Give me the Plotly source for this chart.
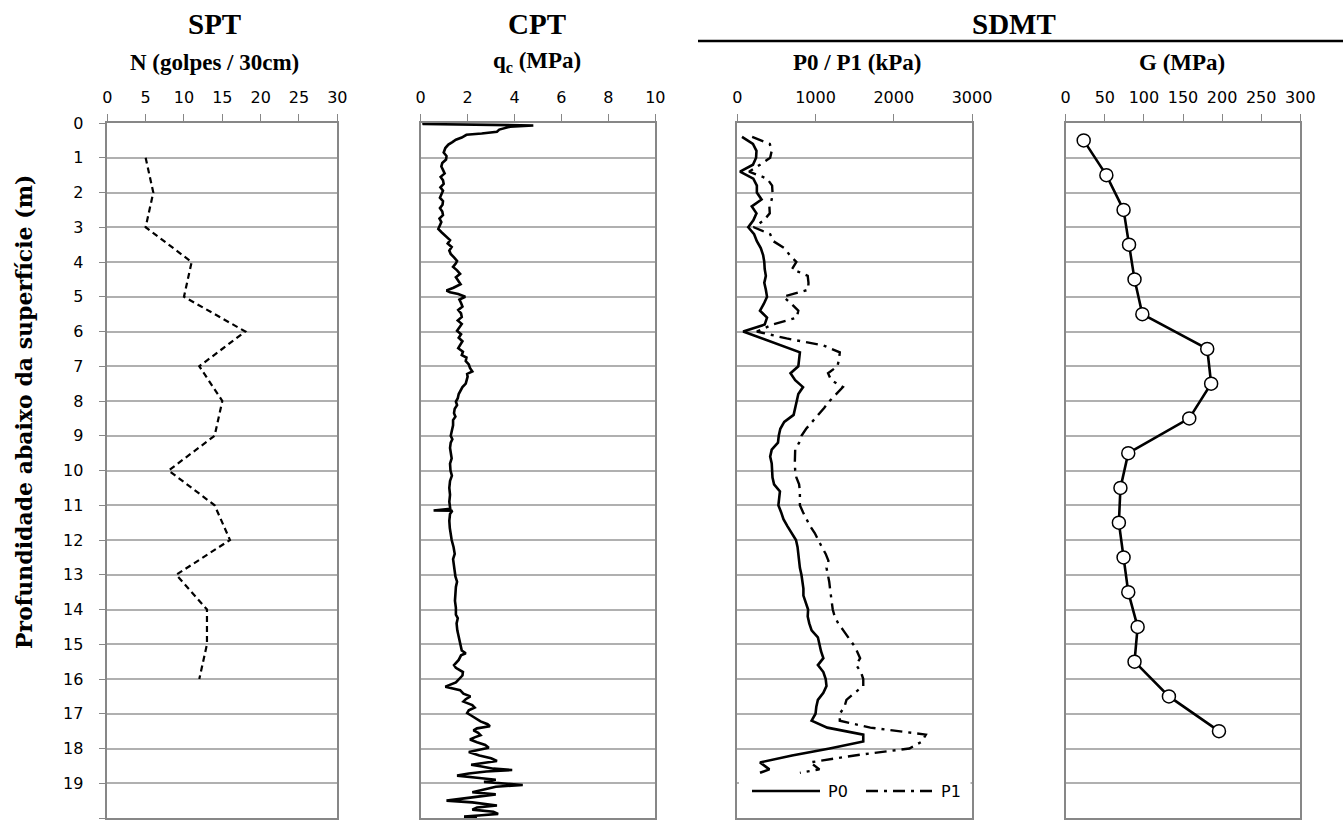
import plotly.graph_objects as go

W, H = 1343, 823

# ---- SPT: blow count per 30 cm ----
spt_depth = [1, 2, 3, 4, 5, 6, 7, 8, 9, 10, 11, 12, 13, 14, 15, 16]
spt_n = [5, 6, 5, 11, 10, 18, 12, 15, 14, 8, 14, 16, 9, 13, 13, 12]

# ---- CPT: cone resistance qc (MPa) ----
cpt_depth = [0.00, 0.03, 0.07, 0.11, 0.19, 0.25, 0.30, 0.34, 0.42, 0.48, 0.55, 0.62, 0.72, 0.85,
             0.95, 1.05, 1.15, 1.25, 1.35, 1.45, 1.55, 1.65, 1.75, 1.85, 1.95, 2.05, 2.15, 2.25,
             2.35, 2.45, 2.55, 2.65, 2.75, 2.85, 2.95, 3.05, 3.15, 3.22, 3.30, 3.37, 3.47, 3.57,
             3.67, 3.77, 3.87, 3.97, 4.04, 4.14, 4.24, 4.34, 4.44, 4.54, 4.64, 4.74, 4.82, 4.87,
             4.92, 5.00, 5.08, 5.18, 5.28, 5.38, 5.48, 5.58, 5.68, 5.78, 5.88, 5.98, 6.08, 6.18,
             6.28, 6.38, 6.48, 6.58, 6.68, 6.75, 6.85, 6.95, 7.05, 7.15, 7.22, 7.30, 7.40, 7.50,
             7.60, 7.70, 7.80, 7.92, 8.02, 8.12, 8.22, 8.35, 8.45, 8.55, 8.70, 8.85, 9.00, 9.10,
             9.20, 9.35, 9.50, 9.65, 9.80, 10.00, 10.15, 10.30, 10.50, 10.70, 10.90, 11.10, 11.15,
             11.16, 11.25, 11.45, 11.65, 11.85, 12.00, 12.20, 12.40, 12.55, 12.70, 12.90, 13.05,
             13.20, 13.35, 13.55, 13.75, 13.95, 14.15, 14.25, 14.40, 14.60, 14.80, 15.00, 15.18,
             15.26, 15.32, 15.45, 15.60, 15.68, 15.80, 15.90, 16.00, 16.10, 16.22, 16.26, 16.32,
             16.42, 16.50, 16.58, 16.65, 16.75, 16.82, 16.90, 16.98, 17.05, 17.15, 17.22, 17.30,
             17.36, 17.42, 17.48, 17.55, 17.62, 17.68, 17.74, 17.82, 17.90, 17.98, 18.05, 18.10,
             18.20, 18.28, 18.36, 18.42, 18.47, 18.52, 18.58, 18.62, 18.66, 18.72, 18.78, 18.84,
             18.90, 18.96, 19.00, 19.05, 19.10, 19.16, 19.20, 19.26, 19.32, 19.38, 19.44, 19.50,
             19.55, 19.60, 19.64, 19.70, 19.76, 19.82, 19.88, 19.92, 19.96, 20.00]
cpt_qc = [0.10, 0.12, 4.80, 3.80, 3.35, 3.25, 2.60, 1.95, 1.75, 1.50, 1.35, 1.18, 1.05, 0.98,
          1.10, 1.08, 0.92, 0.88, 0.95, 1.02, 0.85, 0.95, 0.98, 0.84, 0.95, 0.90, 0.82, 0.95,
          0.93, 0.82, 0.92, 0.95, 0.80, 0.88, 0.82, 0.75, 0.90, 1.00, 1.15, 1.25, 1.15, 1.32,
          1.22, 1.28, 1.42, 1.55, 1.50, 1.38, 1.55, 1.68, 1.50, 1.62, 1.70, 1.40, 1.10, 1.25,
          1.60, 1.90, 1.65, 1.72, 1.78, 1.60, 1.72, 1.75, 1.58, 1.75, 1.65, 1.55, 1.72, 1.62,
          1.78, 1.70, 1.60, 1.80, 1.75, 1.95, 1.92, 2.05, 2.10, 2.20, 1.98, 2.00, 1.95, 1.92,
          1.78, 1.70, 1.62, 1.58, 1.50, 1.55, 1.45, 1.42, 1.48, 1.38, 1.38, 1.33, 1.28, 1.35,
          1.28, 1.25, 1.30, 1.32, 1.25, 1.27, 1.33, 1.25, 1.22, 1.25, 1.22, 1.26, 0.55,
          1.35, 1.25, 1.22, 1.24, 1.28, 1.32, 1.40, 1.45, 1.38, 1.42, 1.45, 1.48,
          1.55, 1.50, 1.48, 1.46, 1.50, 1.50, 1.58, 1.53, 1.56, 1.62, 1.68, 1.75,
          1.92, 1.72, 1.62, 1.42, 1.50, 1.80, 1.78, 1.62, 1.50, 1.05, 1.30, 1.68,
          1.82, 2.12, 1.92, 1.82, 2.20, 2.30, 2.05, 1.98, 2.15, 2.40, 2.55, 2.85,
          2.95, 2.40, 2.25, 2.45, 2.55, 2.30, 2.10, 2.40, 2.75, 2.90, 2.40, 2.05,
          2.50, 3.00, 3.25, 2.60, 2.15, 2.60, 3.10, 3.90, 2.80, 2.05, 1.55, 2.40,
          3.20, 2.70, 3.60, 4.35, 3.20, 2.85, 2.50, 2.20, 3.20, 2.55, 1.70, 1.10,
          2.20, 2.90, 3.25, 2.40, 2.20, 3.10, 3.30, 2.60, 1.85, 2.40]

# ---- SDMT: P0 / P1 (kPa) ----
dmt_depth = [0.4, 0.6, 0.8, 1.0, 1.2, 1.4, 1.6, 1.8, 2.0, 2.2, 2.4, 2.6, 2.8, 3.0, 3.2, 3.4,
             3.6, 3.8, 4.0, 4.2, 4.4, 4.6, 4.8, 5.0, 5.2, 5.4, 5.6, 5.8, 6.0, 6.2, 6.4, 6.6,
             6.8, 7.0, 7.2, 7.4, 7.6, 7.8, 8.0, 8.2, 8.4, 8.6, 8.8, 9.0, 9.2, 9.4, 9.6, 9.8,
             10.0, 10.2, 10.4, 10.6, 10.8, 11.0, 11.2, 11.4, 11.6, 11.8, 12.0, 12.2, 12.4,
             12.6, 12.8, 13.0, 13.2, 13.4, 13.6, 13.8, 14.0, 14.2, 14.4, 14.6, 14.8, 15.0,
             15.2, 15.4, 15.6, 15.8, 16.0, 16.2, 16.4, 16.6, 16.8, 17.0, 17.2, 17.4, 17.6,
             17.8, 18.0, 18.2, 18.4, 18.6, 18.7]
p0 = [60, 200, 245, 240, 200, 35, 205, 250, 250, 310, 185, 245, 205, 140, 215, 250,
      300, 330, 345, 350, 365, 345, 365, 380, 340, 290, 380, 350, 75, 320, 560, 800,
      790, 780, 680, 740, 840, 780, 760, 740, 720, 600, 550, 530, 520, 440, 420, 440,
      445, 450, 470, 545, 535, 525, 560, 590, 640, 700, 750, 770, 780,
      790, 800, 820, 830, 845, 845, 880, 905, 900, 920, 950, 1030, 1050,
      1070, 1100, 1030, 1100, 1130, 1140, 1100, 1030, 1010, 1000, 950, 1150, 1610,
      1610, 1180, 700, 290, 410, 290]
p1 = [190, 415, 440, 420, 290, 150, 380, 445, 450, 440, 410, 415, 340, 210, 420, 460,
      600, 670, 755, 700, 900, 910, 905, 590, 690, 780, 760, 450, 250, 630, 1100, 1310,
      1300, 1280, 1160, 1200, 1350, 1260, 1180, 1110, 1030, 950, 880, 820, 790, 740, 735, 735,
      740, 755, 790, 800, 800, 800, 840, 880, 930, 990, 1030, 1080, 1130,
      1165, 1140, 1160, 1175, 1185, 1195, 1205, 1220, 1245, 1290, 1355, 1420, 1480,
      1530, 1570, 1520, 1580, 1610, 1610, 1500, 1395, 1370, 1310, 1310, 1700, 2410,
      2360, 2200, 1500, 930, 1050, 800]

# ---- SDMT: shear modulus G (MPa) ----
g_depth = [0.5, 1.5, 2.5, 3.5, 4.5, 5.5, 6.5, 7.5, 8.5, 9.5, 10.5, 11.5, 12.5, 13.5, 14.5,
           15.5, 16.5, 17.5]
g_mpa = [23, 52, 74, 81, 88, 98, 181, 186, 158, 80, 70, 68, 74, 80, 92, 88, 132, 196]

depth_ticks = list(range(0, 21))

# panel geometry in pixels
panels = [(107.3, 337.3), (420.7, 655.3), (737.3, 972.0), (1065.7, 1300.3)]
x_ranges = [(0, 30), (0, 10), (0, 3000), (0, 300)]
x_dticks = [5, 2, 1000, 50]
PLOT_TOP, PLOT_BOT = 123, 818

BORDER = "#878787"
GRID = "#b0b0b0"
TICK_FONT = dict(family="DejaVu Sans, sans-serif", size=16, color="#000000")
SERIF = "Liberation Serif, Times New Roman, serif"


def px(x):
    return x / W


def py(y):
    return 1 - y / H


fig = go.Figure()

fig.add_trace(go.Scatter(x=spt_n, y=spt_depth, mode="lines",
                         line=dict(color="black", width=2.2, dash="6px,4px"),
                         xaxis="x", yaxis="y", showlegend=False))
fig.add_trace(go.Scatter(x=cpt_qc, y=cpt_depth, mode="lines",
                         line=dict(color="black", width=2.6),
                         xaxis="x2", yaxis="y2", showlegend=False))
fig.add_trace(go.Scatter(x=p0, y=dmt_depth, mode="lines", name="P0",
                         line=dict(color="black", width=2.6),
                         xaxis="x3", yaxis="y3", showlegend=False))
fig.add_trace(go.Scatter(x=p1, y=dmt_depth, mode="lines", name="P1",
                         line=dict(color="black", width=2.4, dash="12px,6px,3px,6px"),
                         xaxis="x3", yaxis="y3", showlegend=False))
fig.add_trace(go.Scatter(x=g_mpa, y=g_depth, mode="lines+markers",
                         line=dict(color="black", width=2.6),
                         marker=dict(symbol="circle", size=13, color="white",
                                     line=dict(color="black", width=1.5)),
                         xaxis="x4", yaxis="y4", showlegend=False))

layout = dict(
    width=W, height=H,
    margin=dict(l=0, r=0, t=0, b=0, autoexpand=False),
    paper_bgcolor="white", plot_bgcolor="white",
    showlegend=False,
)

ydom = [py(PLOT_BOT), py(PLOT_TOP)]
for i, ((x0, x1), rng, dt) in enumerate(zip(panels, x_ranges, x_dticks)):
    sfx = "" if i == 0 else str(i + 1)
    layout["xaxis" + sfx] = dict(
        domain=[px(x0), px(x1)], range=list(rng), dtick=dt, tick0=0,
        side="top", anchor="y" + sfx, automargin=False,
        showgrid=False, zeroline=False,
        showline=True, linecolor=BORDER, linewidth=1.5, mirror=True,
        ticks="outside", ticklen=7, tickcolor=BORDER, tickwidth=1,
        tickfont=TICK_FONT, ticklabelstandoff=5,
    )
    layout["yaxis" + sfx] = dict(
        domain=ydom, range=[20, 0], tickvals=depth_ticks,
        anchor="x" + sfx, automargin=False,
        showgrid=True, gridcolor=GRID, gridwidth=1.5, zeroline=False,
        showline=True, linecolor=BORDER, linewidth=1.5, mirror=True,
        ticks="outside" if i == 0 else "", ticklen=7, tickcolor=BORDER,
        showticklabels=(i == 0), tickfont=TICK_FONT, ticklabelstandoff=12,
    )

annotations = []


def title(text, x, y, size):
    annotations.append(dict(text=text, x=px(x), y=py(y), xref="paper", yref="paper",
                            xanchor="center", yanchor="middle", showarrow=False,
                            font=dict(family=SERIF, size=size, color="black")))


title("<b>SPT</b>", 214, 24, 29)
title("<b>N (golpes / 30cm)</b>", 214, 62, 23)
title("<b>CPT</b>", 537, 24, 29)
title("<b>q<sub>c</sub> (MPa)</b>", 537, 62, 23)
title("<b>SDMT</b>", 1014, 24, 29)
title("<b>P0 / P1 (kPa)</b>", 857, 62, 23)
title("<b>G (MPa)</b>", 1182, 62, 23)

annotations.append(dict(text="<b>Profundidade abaixo da superfície (m)</b>",
                        x=px(24), y=py(412), xref="paper", yref="paper",
                        xanchor="center", yanchor="middle", showarrow=False, textangle=-90,
                        font=dict(family="DejaVu Serif, serif", size=22, color="black")))

# legend for the P0 / P1 panel
LEG_Y = 791
annotations.append(dict(text="P0", x=px(826), y=py(LEG_Y), xref="paper", yref="paper",
                        xanchor="left", yanchor="middle", showarrow=False, font=TICK_FONT))
annotations.append(dict(text="P1", x=px(939), y=py(LEG_Y), xref="paper", yref="paper",
                        xanchor="left", yanchor="middle", showarrow=False, font=TICK_FONT))

shapes = [
    # rule under the SDMT heading
    dict(type="line", xref="paper", yref="paper", x0=px(698), x1=1.0, y0=py(41), y1=py(41),
         line=dict(color="black", width=2.5)),
    # legend box background
    dict(type="rect", xref="paper", yref="paper", x0=px(739), x1=px(970.5),
         y0=py(777), y1=py(808), fillcolor="white", line=dict(width=0), layer="above"),
    dict(type="line", xref="paper", yref="paper", x0=px(752), x1=px(820),
         y0=py(LEG_Y), y1=py(LEG_Y), line=dict(color="black", width=2.6)),
    dict(type="line", xref="paper", yref="paper", x0=px(866), x1=px(932),
         y0=py(LEG_Y), y1=py(LEG_Y),
         line=dict(color="black", width=2.4, dash="12px,6px,3px,6px")),
]

layout["annotations"] = annotations
layout["shapes"] = shapes
fig.update_layout(**layout)

fig.write_html("out.html")
